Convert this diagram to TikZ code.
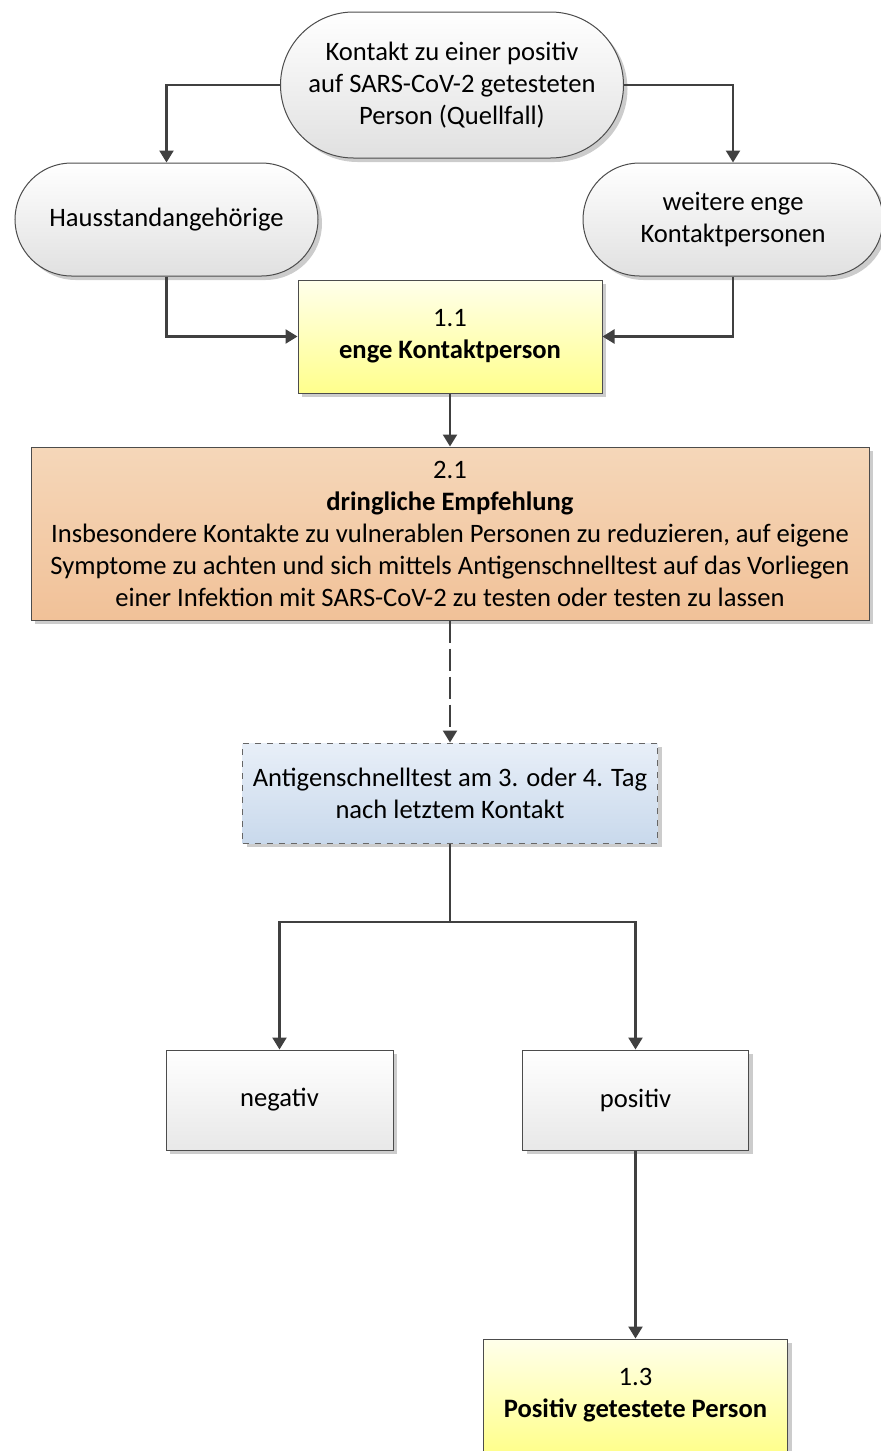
\documentclass[tikz,border=0pt]{standalone}
\usepackage{fontspec}
\setmainfont{Carlito}
\usetikzlibrary{arrows.meta}
\usetikzlibrary{shapes.misc}
\usetikzlibrary{shadows}

\newcommand{\diagfont}{\fontsize{13.3}{16}\selectfont}

\begin{document}
\begin{tikzpicture}[
    x=0.5pt, y=-0.5pt,
    arrowtip/.style={
      -{Triangle[length=6pt,width=7pt]}
    },
    conn/.style={draw=black!75, line width=1.2pt},
    boxshadow/.style={
      drop shadow={shadow xshift=2pt, shadow yshift=-2pt, fill=black!20, opacity=1}
    },
    terminal/.style={
      rounded rectangle, draw=black!70, line width=0.5pt, inner sep=0pt,
      top color=white, bottom color=black!12, boxshadow, align=center, font=\diagfont
    },
    stepbox/.style={
      rectangle, draw=black!70, line width=0.5pt, inner sep=0pt,
      boxshadow, align=center, font=\diagfont
    }
  ]
    \useasboundingbox (0,0) rectangle (880,1451);

    \coordinate (QQ) at (452,  85);
    \coordinate (HH) at (166.5, 219.5);
    \coordinate (WW) at (733,   219.5);
    \coordinate (KK) at (450,   336.5);
    \coordinate (EE) at (450,   533.5);
    \coordinate (AT) at (450,   793);
    \coordinate (NN) at (279.5, 1100);
    \coordinate (PP) at (635.5, 1100);
    \coordinate (PT) at (635.5, 1395.5);
    \coordinate (split) at (450, 922);

    \node[terminal, minimum width=171.5pt, minimum height=73pt] (QQT) at (QQ)
      {Kontakt zu einer positiv\\auf SARS-CoV-2 getesteten\\Person (Quellfall)};

    \node[terminal, minimum width=151.5pt, minimum height=56.5pt] (HHT) at (HH)
      {Hausstandangehörige};

    \node[terminal, minimum width=150pt, minimum height=56.5pt] (WWT) at (WW)
      {weitere enge\\Kontaktpersonen};

    \node[stepbox, top color=yellow!8, bottom color=yellow!45!white,
          minimum width=152pt, minimum height=56.5pt] (KKT) at (KK)
      {1.1\\\textbf{enge Kontaktperson}};

    \node[stepbox, top color={rgb,255:red,245;green,215;blue,185},
          bottom color={rgb,255:red,241;green,193;blue,152},
          minimum width=419pt, minimum height=86.5pt] (EET) at (EE)
      {2.1\\\textbf{dringliche Empfehlung}\\
       Insbesondere Kontakte zu vulnerablen Personen zu reduzieren, auf eigene\\
       Symptome zu achten und sich mittels Antigenschnelltest auf das Vorliegen\\
       einer Infektion mit SARS-CoV-2 zu testen oder testen zu lassen};

    \node[stepbox, dashed, draw=black!60, top color={rgb,255:red,232;green,239;blue,248},
          bottom color={rgb,255:red,201;green,217;blue,236},
          minimum width=207.5pt, minimum height=50pt] (ATT) at (AT)
      {Antigenschnelltest am 3. oder 4. Tag\\nach letztem Kontakt};

    \node[stepbox, top color=white, bottom color=black!9,
          minimum width=113.5pt, minimum height=50pt] (NNT) at (NN) {negativ};

    \node[stepbox, top color=white, bottom color=black!9,
          minimum width=113pt, minimum height=50pt] (PPT) at (PP) {positiv};

    \node[stepbox, top color=yellow!8, bottom color=yellow!45!white,
          minimum width=152pt, minimum height=56.5pt] (PTT) at (PT)
      {1.3\\\textbf{Positiv getestete Person}};

    \draw[conn, arrowtip] (QQT.west) -| (HHT.north);
    \draw[conn, arrowtip] (QQT.east) -| (WWT.north);
    \draw[conn, arrowtip] (HHT.south) |- (KKT.west);
    \draw[conn, arrowtip] (WWT.south) |- (KKT.east);
    \draw[conn, arrowtip] (KKT.south) -- (EET.north);
    \draw[conn, arrowtip, dash pattern=on 11pt off 3pt] (EET.south) -- (ATT.north);
    \draw[conn] (ATT.south) -- (split);
    \draw[conn, arrowtip] (split) -| (NNT.north);
    \draw[conn, arrowtip] (split) -| (PPT.north);
    \draw[conn, arrowtip] (PPT.south) -- (PTT.north);
  \end{tikzpicture}
\end{document}
